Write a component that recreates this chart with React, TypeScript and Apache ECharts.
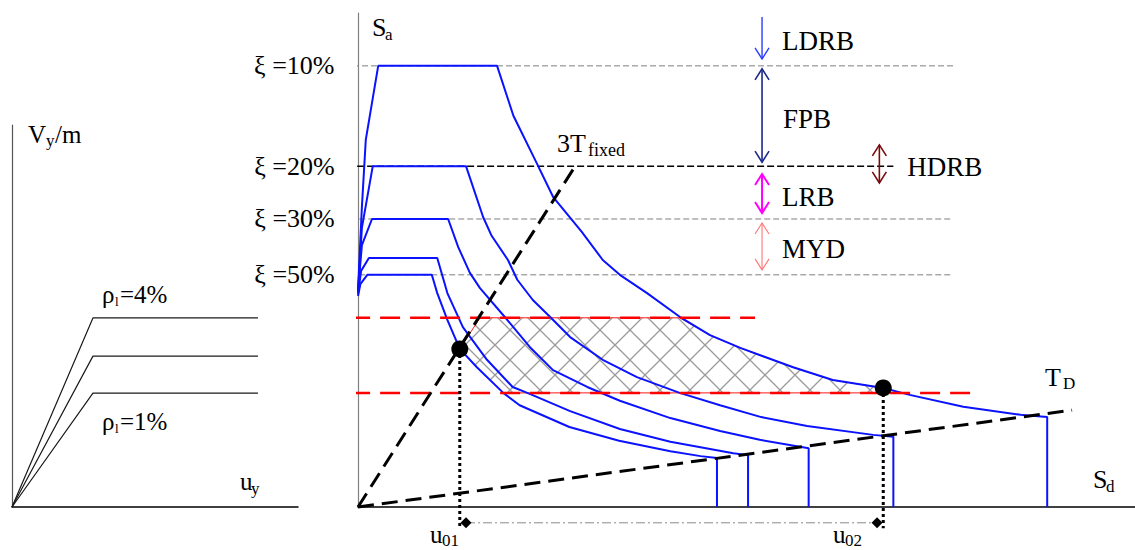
import React, { useEffect, useRef } from 'react';
import * as echarts from 'echarts';

const FONT = "'Liberation Serif', 'Times New Roman', 'DejaVu Serif', serif";
const BLUE = '#0a12ff';

// ---- Acceleration-displacement spectra (Sd, Sa) for each damping ratio ----
const curve10Sd = [0, 0.05, 0.10, 0.26, 1.79, 2.00, 2.30, 2.51, 2.88, 3.15, 3.37, 3.72, 4.14, 4.53, 4.92, 5.60, 6.11, 6.76, 7.10, 7.79, 8.56, 8.87, 8.87];
const curve10Sa = [4.37, 6.07, 7.43, 8.93, 8.93, 7.92, 6.96, 6.28, 5.57, 5.00, 4.70, 4.33, 3.85, 3.48, 3.22, 2.83, 2.57, 2.41, 2.27, 2.03, 1.86, 1.82, 0];

const curve20Sd = [0, 0.05, 0.19, 1.39, 1.61, 1.72, 1.93, 2.05, 2.25, 2.47, 2.73, 3.15, 3.59, 4.14, 4.66, 5.19, 5.78, 6.63, 6.89, 6.89];
const curve20Sa = [4.35, 5.65, 6.90, 6.90, 5.87, 5.49, 5.00, 4.60, 4.19, 3.85, 3.44, 2.98, 2.63, 2.31, 2.06, 1.82, 1.64, 1.46, 1.42, 0];

const curve30Sd = [0, 0.05, 0.18, 1.16, 1.29, 1.44, 1.57, 1.92, 2.21, 2.51, 2.95, 3.37, 4.02, 4.66, 5.17, 5.80, 5.80];
const curve30Sa = [4.37, 5.30, 5.83, 5.83, 5.26, 4.74, 4.43, 3.79, 3.24, 2.77, 2.43, 2.15, 1.80, 1.54, 1.36, 1.19, 0];

const curve40Sd = [0, 0.04, 0.14, 1.02, 1.15, 1.35, 1.66, 1.99, 2.21, 2.73, 3.37, 4.02, 4.83, 5.02, 5.02];
const curve40Sa = [4.31, 4.78, 5.04, 5.04, 4.33, 3.64, 2.98, 2.43, 2.29, 1.94, 1.58, 1.32, 1.09, 1.05, 0];

const curve50Sd = [0, 0.03, 0.12, 0.95, 1.02, 1.15, 1.31, 1.53, 1.87, 2.08, 2.72, 3.36, 4.02, 4.41, 4.62, 4.62];
const curve50Sa = [4.27, 4.51, 4.70, 4.70, 4.33, 3.79, 3.20, 2.83, 2.31, 2.06, 1.62, 1.34, 1.13, 1.03, 0.99, 0];

// ---- Damping reference levels ----
const dampingLabels = ['ξ =10%', 'ξ =20%', 'ξ =30%', 'ξ =50%'];
const dampingSa = [8.93, 6.90, 5.83, 4.70];
const dampingSdStart = [-0.064, -0.14, -0.10, -0.10];
const dampingSdEnd = [7.68, 6.89, 7.64, 7.64];

// ---- Yield strength band (from the capacity curves) ----
const yieldSa = [3.83, 2.31];
const yieldSdStart = -1.26;
const yieldSdEnd = [5.11, 7.94];

// Feasible design region between the two yield levels
const hatchSd = [1.57, 4.14, 4.53, 4.92, 5.60, 6.11, 6.76, 6.99, 1.87, 1.53, 1.31];
const hatchSa = [3.83, 3.83, 3.48, 3.22, 2.83, 2.57, 2.41, 2.31, 2.31, 2.83, 3.20];

// ---- Period lines through the origin ----
const line3TSd = [0, 2.82];
const line3TSa = [0, 6.96];
const lineTDSd = [0, 9.19];
const lineTDSa = [0, 1.96];

// ---- Performance points and displacement range ----
const perfSd = [1.31, 6.76];
const perfSa = [3.20, 2.41];
const dropSa = -0.43;
const rangeSd = [1.39, 6.68];
const rangeSa = -0.32;

// ---- Bearing-type zones ----
const zoneLabels = ['LDRB', 'FPB', 'HDRB', 'LRB', 'MYD'];
const zoneSd = [5.2, 5.2, 6.71, 5.2, 5.2];
const zoneSaTop = [9.92, 8.87, 7.33, 6.74, 5.75];
const zoneSaBottom = [9.07, 6.98, 6.56, 5.95, 4.80];
const zoneDoubleHead = [false, true, true, true, true];
const zoneColors = ['#2a3cff', '#1b2a8c', '#7a0a0a', '#ff00ff', '#ff7676'];
const zoneWidths = [1.4, 1.6, 1.6, 2, 1.1];
const zoneLabelGap = [20, 21, 28, 20, 20];

// ---- Capacity curves (left panel): uy vs Vy/m ----
const pushU = [0, 2.83, 8.60];
const pushV4 = [0, 4.95, 4.95];
const pushV2 = [0, 3.95, 3.95];
const pushV1 = [0, 2.98, 2.98];

const pairs = (xs: number[], ys: number[]) => xs.map((x, i) => [x, ys[i]]);

function makeHatch() {
  const s = 30;
  const c = document.createElement('canvas');
  c.width = s;
  c.height = s;
  const ctx = c.getContext('2d')!;
  ctx.strokeStyle = '#9a9a9a';
  ctx.lineWidth = 1.3;
  ctx.beginPath();
  for (let k = -1; k <= 1; k++) {
    ctx.moveTo(k * s, 0);
    ctx.lineTo(k * s + s, s);
    ctx.moveTo(k * s + s, 0);
    ctx.lineTo(k * s, s);
  }
  ctx.stroke();
  return { image: c.toDataURL(), repeat: 'repeat', imageWidth: s, imageHeight: s };
}

function txt(text: string, x: number, y: number, size: number) {
  return {
    type: 'text',
    x,
    y,
    silent: true,
    style: {
      text,
      fontSize: size,
      fontFamily: FONT,
      fill: '#000',
      align: 'left',
      verticalAlign: 'middle',
      textAlign: 'left',
      textVerticalAlign: 'middle',
    },
  };
}

function buildOption() {
  const hatch = makeHatch();
  const curves = [
    pairs(curve10Sd, curve10Sa),
    pairs(curve20Sd, curve20Sa),
    pairs(curve30Sd, curve30Sa),
    pairs(curve40Sd, curve40Sa),
    pairs(curve50Sd, curve50Sa),
  ];

  const series: any[] = [];

  // hatched region
  series.push({
    type: 'custom',
    xAxisIndex: 0,
    yAxisIndex: 0,
    clip: false,
    silent: true,
    z: 1,
    data: [[hatchSd[0], hatchSa[0]]],
    renderItem: (_p: any, api: any) => ({
      type: 'polygon',
      shape: { points: hatchSd.map((x, i) => api.coord([x, hatchSa[i]])) },
      style: { fill: hatch, stroke: '#ff1a1a', lineWidth: 1 },
    }),
  });

  // damping reference lines with their labels
  dampingSa.forEach((sa, i) => {
    const isMain = i === 1;
    series.push({
      type: 'line',
      xAxisIndex: 0,
      yAxisIndex: 0,
      clip: false,
      silent: true,
      z: 2,
      showSymbol: true,
      symbol: 'circle',
      symbolSize: 1,
      itemStyle: { color: 'rgba(0,0,0,0)' },
      lineStyle: isMain
        ? { color: '#000', width: 1.5, type: [7, 3] }
        : { color: '#7f7f7f', width: 1, type: [6, 3] },
      data: [
        {
          value: [dampingSdStart[i], sa],
          label: {
            show: true,
            position: 'left',
            distance: i === 0 ? 18 : i === 1 ? 12 : 15,
            formatter: dampingLabels[i],
            fontSize: 26,
            fontFamily: FONT,
            color: '#000',
          },
        },
        [dampingSdEnd[i], sa],
      ],
    });
  });

  // spectra
  curves.forEach((d) => {
    series.push({
      type: 'line',
      xAxisIndex: 0,
      yAxisIndex: 0,
      silent: true,
      z: 4,
      symbol: 'none',
      lineStyle: { color: BLUE, width: 2 },
      data: d,
    });
  });

  // yield levels
  yieldSa.forEach((sa, i) => {
    series.push({
      type: 'line',
      xAxisIndex: 0,
      yAxisIndex: 0,
      clip: false,
      silent: true,
      z: 5,
      symbol: 'none',
      lineStyle: { color: '#ff0000', width: 2.5, type: [20, 10] },
      data: [[yieldSdStart, sa], [yieldSdEnd[i], sa]],
    });
  });

  // period lines
  [pairs(line3TSd, line3TSa), pairs(lineTDSd, lineTDSa)].forEach((d) => {
    series.push({
      type: 'line',
      xAxisIndex: 0,
      yAxisIndex: 0,
      clip: false,
      silent: true,
      z: 6,
      symbol: 'none',
      lineStyle: { color: '#000', width: 3, type: [16, 8] },
      data: d,
    });
  });

  // drop lines from performance points
  perfSd.forEach((sd, i) => {
    series.push({
      type: 'line',
      xAxisIndex: 0,
      yAxisIndex: 0,
      clip: false,
      silent: true,
      z: 7,
      symbol: 'none',
      lineStyle: { color: '#000', width: 3, type: [3, 3] },
      data: [[sd, perfSa[i]], [sd, dropSa]],
    });
  });

  // displacement range
  series.push({
    type: 'line',
    xAxisIndex: 0,
    yAxisIndex: 0,
    clip: false,
    silent: true,
    z: 7,
    showSymbol: true,
    symbol: 'diamond',
    symbolSize: 11,
    itemStyle: { color: '#000', opacity: 1 },
    lineStyle: { color: '#8a8a8a', width: 1, type: [9, 3, 2, 3] },
    data: [[rangeSd[0], rangeSa], [rangeSd[1], rangeSa]],
  });

  // performance points
  series.push({
    type: 'scatter',
    xAxisIndex: 0,
    yAxisIndex: 0,
    silent: true,
    z: 9,
    symbolSize: 17,
    itemStyle: { color: '#000', opacity: 1 },
    data: pairs(perfSd, perfSa),
  });

  // bearing zones
  series.push({
    type: 'custom',
    xAxisIndex: 0,
    yAxisIndex: 0,
    clip: false,
    silent: true,
    z: 8,
    data: zoneSd.map((x, i) => [x, zoneSaTop[i], zoneSaBottom[i]]),
    renderItem: (params: any, api: any) => {
      const i = params.dataIndex;
      const top = api.coord([zoneSd[i], zoneSaTop[i]]);
      const bot = api.coord([zoneSd[i], zoneSaBottom[i]]);
      const stroke = zoneColors[i];
      const lw = zoneWidths[i];
      const children: any[] = [
        { type: 'line', shape: { x1: top[0], y1: top[1], x2: bot[0], y2: bot[1] }, style: { stroke, lineWidth: lw } },
        {
          type: 'polyline',
          shape: { points: [[bot[0] - 7, bot[1] - 11], [bot[0], bot[1]], [bot[0] + 7, bot[1] - 11]] },
          style: { stroke, fill: 'none', lineWidth: lw },
        },
      ];
      if (zoneDoubleHead[i]) {
        children.push({
          type: 'polyline',
          shape: { points: [[top[0] - 7, top[1] + 11], [top[0], top[1]], [top[0] + 7, top[1] + 11]] },
          style: { stroke, fill: 'none', lineWidth: lw },
        });
      }
      children.push({
        type: 'text',
        x: top[0] + zoneLabelGap[i],
        y: (top[1] + bot[1]) / 2 + 3,
        style: {
          text: zoneLabels[i],
          fontSize: 27,
          fontFamily: FONT,
          fill: '#000',
          align: 'left',
          verticalAlign: 'middle',
          textAlign: 'left',
          textVerticalAlign: 'middle',
        },
      });
      return { type: 'group', children };
    },
  });

  // capacity curves
  [pushV4, pushV2, pushV1].forEach((v) => {
    series.push({
      type: 'line',
      xAxisIndex: 1,
      yAxisIndex: 1,
      silent: true,
      z: 3,
      symbol: 'none',
      lineStyle: { color: '#1a1a1a', width: 1.2 },
      data: pairs(pushU, v),
    });
  });

  const hiddenParts = {
    axisTick: { show: false },
    axisLabel: { show: false },
    splitLine: { show: false },
  };

  return {
    animation: false,
    backgroundColor: '#fff',
    grid: [
      { left: 358, top: 13, width: 777, height: 494 },
      { left: 12, top: 125, width: 286, height: 382 },
    ],
    xAxis: [
      { type: 'value', gridIndex: 0, min: 0, max: 10, axisLine: { show: true, onZero: false, lineStyle: { color: '#000', width: 1.5 } }, ...hiddenParts },
      { type: 'value', gridIndex: 1, min: 0, max: 10, axisLine: { show: true, onZero: false, lineStyle: { color: '#000', width: 1.5 } }, ...hiddenParts },
    ],
    yAxis: [
      { type: 'value', gridIndex: 0, min: 0, max: 10, axisLine: { show: true, onZero: false, lineStyle: { color: '#808080', width: 1.2 } }, ...hiddenParts },
      { type: 'value', gridIndex: 1, min: 0, max: 10, axisLine: { show: true, onZero: false, lineStyle: { color: '#555', width: 1.2 } }, ...hiddenParts },
    ],
    series,
    graphic: [
      txt('S', 372, 27, 26),
      txt('a', 385, 34, 17),
      txt('3T', 557, 143, 26),
      txt('fixed', 588, 150, 18),
      txt('T', 1045, 377, 26),
      txt('D', 1063, 383, 17),
      txt('S', 1093, 479, 26),
      txt('d', 1106, 486, 17),
      txt('u', 430, 534, 25),
      txt('01', 442, 540, 17),
      txt('u', 833, 534, 25),
      txt('02', 845, 540, 17),
      txt('V', 28, 134, 25),
      txt('y', 46, 140, 17),
      txt('/m', 55, 134, 25),
      txt('ρ', 102, 294, 25),
      txt('l', 115, 301, 13),
      txt('=4%', 120, 294, 25),
      txt('ρ', 102, 421, 25),
      txt('l', 115, 428, 13),
      txt('=1%', 120, 421, 25),
      txt('u', 240, 481, 25),
      txt('y', 251, 488, 17),
    ],
  };
}

export default function App() {
  const ref = useRef<HTMLDivElement>(null);
  useEffect(() => {
    const chart = echarts.init(ref.current!, null, { renderer: 'svg' });
    chart.setOption(buildOption() as any);
    return () => chart.dispose();
  }, []);
  return (
    <div
      ref={ref}
      style={{ position: 'fixed', left: 0, top: 0, width: 1135, height: 550, background: '#fff' }}
    />
  );
}
